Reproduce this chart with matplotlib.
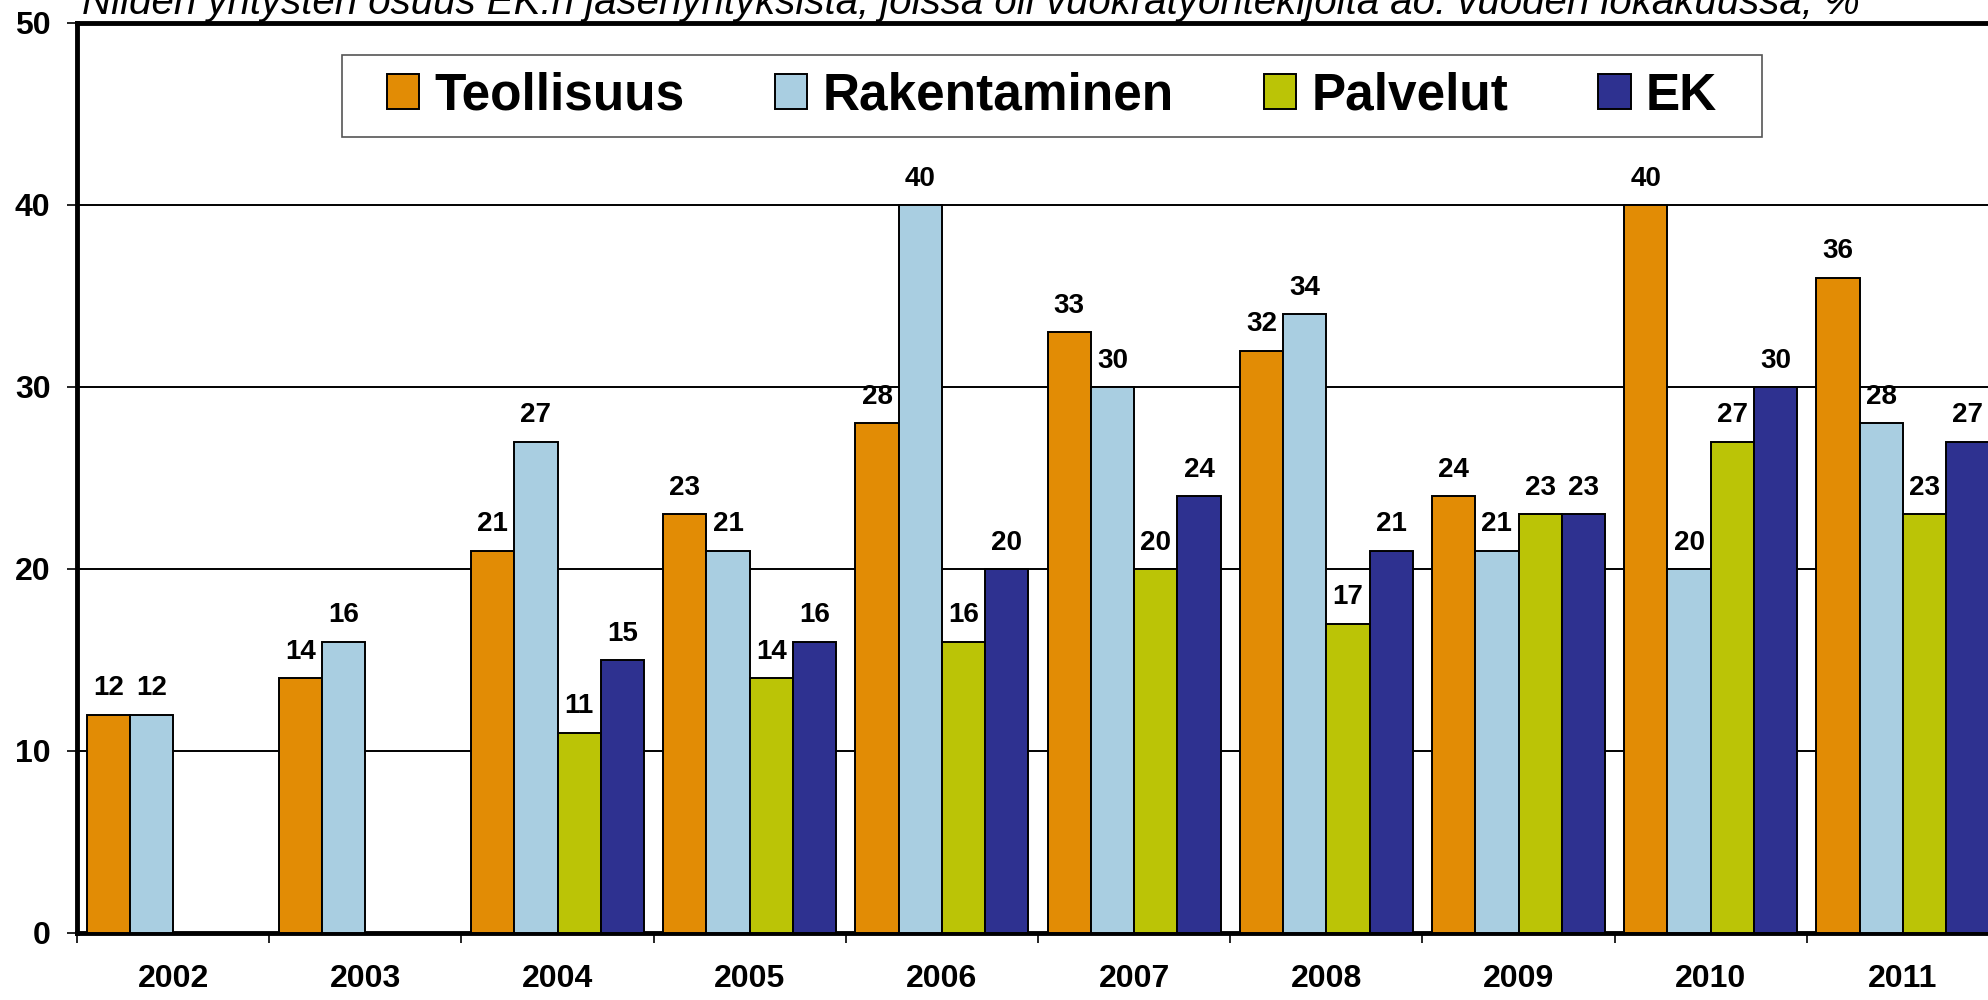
import numpy as np
import matplotlib
matplotlib.use("Agg")
import matplotlib.pyplot as plt
from matplotlib.patches import Rectangle

plt.rcParams['font.family'] = ['Liberation Sans', 'DejaVu Sans']

years = ['2002', '2003', '2004', '2005', '2006', '2007', '2008', '2009', '2010', '2011']
series_names = ['Teollisuus', 'Rakentaminen', 'Palvelut', 'EK']
teollisuus = [12, 14, 21, 23, 28, 33, 32, 24, 40, 36]
rakentaminen = [12, 16, 27, 21, 40, 30, 34, 21, 20, 28]
palvelut = [np.nan, np.nan, 11, 14, 16, 20, 17, 23, 27, 23]
ek = [np.nan, np.nan, 15, 16, 20, 24, 21, 23, 30, 27]
colors = ['#E28C05', '#A9CEE1', '#BBC406', '#2E3190']
title = "Niiden yritysten osuus EK:n jäsenyrityksistä, joissa oli vuokratyöntekijöitä ao. vuoden lokakuussa, %"

fig = plt.figure(figsize=(19.88, 10), dpi=100)
ax = fig.add_axes([77/1988, 0.067, 1922/1988, 0.910])

x = np.arange(len(years))
w = 0.225
all_series = [teollisuus, rakentaminen, palvelut, ek]
handles = []
for i, vals in enumerate(all_series):
    vals = np.array(vals, dtype=float)
    pos = x + (i - 1.5) * w
    b = ax.bar(pos, np.nan_to_num(vals), w, color=colors[i], edgecolor='black',
               linewidth=1.4, zorder=3, label=series_names[i])
    handles.append(b)
    for xp, v in zip(pos, vals):
        if np.isnan(v):
            continue
        ax.annotate('%d' % v, (xp, v), xytext=(0, 14), textcoords='offset points',
                    ha='center', va='baseline', fontsize=20, fontweight='bold')

ax.set_xlim(-0.5, len(years) - 0.5)
ax.set_ylim(0, 50)
ax.set_yticks([0, 10, 20, 30, 40, 50])
ax.yaxis.grid(True, color='black', linewidth=1.4)
ax.set_axisbelow(True)
ax.tick_params(axis='y', labelsize=23, length=7, width=1.2, pad=12)
for lab in ax.get_yticklabels():
    lab.set_fontweight('bold')

ax.set_xticks(np.arange(len(years) + 1) - 0.5)
ax.set_xticklabels([])
ax.set_xticks(x, minor=True)
ax.set_xticklabels(years, minor=True, fontsize=23, fontweight='bold')
ax.tick_params(axis='x', which='major', length=7, width=1.2)
ax.tick_params(axis='x', which='minor', length=0, pad=22)

for s in ax.spines.values():
    s.set_linewidth(3.5)

# legend box
fig.patches.append(Rectangle((342/1988, 1-137/1000), (1762-342)/1988, 82/1000,
                             transform=fig.transFigure, facecolor='white',
                             edgecolor='#555555', linewidth=1.2, zorder=5))
leg = fig.legend(handles=handles, loc='center', bbox_to_anchor=(1052/1988, 0.904),
                 ncol=4, frameon=False, prop={'size': 37, 'weight': 'bold'},
                 handlelength=0.63, handleheight=0.66, handletextpad=0.3,
                 columnspacing=1.75)
leg.set_zorder(6)

fig.text(82/1988, 0.986, title, fontsize=29, style='italic', va='baseline', ha='left')

fig.savefig('out.png', dpi=100)
